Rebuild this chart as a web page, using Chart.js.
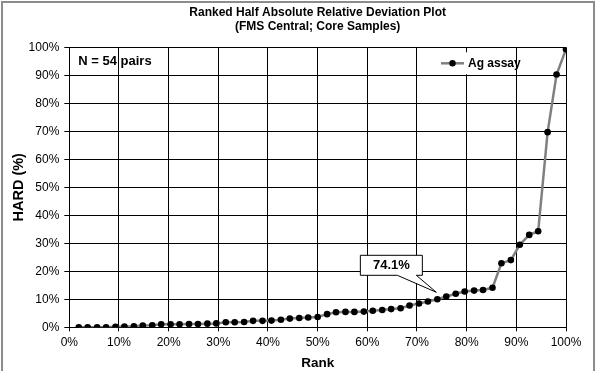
<!DOCTYPE html>
<html>
<head>
<meta charset="utf-8">
<script src="https://cdn.jsdelivr.net/npm/chart.js@4.4.1/dist/chart.umd.min.js"></script>
<style>
  body { margin: 0; background: #fff; }
  #wrap { width: 597px; height: 371px; }
</style>
</head>
<body>
<div id="wrap"><canvas id="hard" width="597" height="371"></canvas></div>
<script>
// ranked HARD values, Ag assay, 54 pairs
var rankPct = [1.9, 3.7, 5.6, 7.4, 9.3, 11.1, 13.0, 14.8, 16.7, 18.5,
    20.4, 22.2, 24.1, 25.9, 27.8, 29.6, 31.5, 33.3, 35.2, 37.0,
    38.9, 40.7, 42.6, 44.4, 46.3, 48.1, 50.0, 51.9, 53.7, 55.6,
    57.4, 59.3, 61.1, 63.0, 64.8, 66.7, 68.5, 70.4, 72.2, 74.1,
    75.9, 77.8, 79.6, 81.5, 83.3, 85.2, 87.0, 88.9, 90.7, 92.6,
    94.4, 96.3, 98.1, 100.0];
var hardPct = [0.0, 0.0, 0.0, 0.0, 0.2, 0.3, 0.4, 0.6, 0.7, 1.1,
    1.1, 1.1, 1.2, 1.2, 1.3, 1.4, 1.8, 1.8, 1.9, 2.3,
    2.3, 2.4, 2.7, 3.1, 3.3, 3.5, 3.7, 4.7, 5.4, 5.5,
    5.5, 5.6, 5.9, 6.2, 6.5, 6.8, 7.8, 8.5, 9.2, 10.0,
    11.0, 12.0, 12.8, 13.1, 13.3, 14.1, 22.9, 24.0, 29.5, 33.0,
    34.3, 69.7, 90.3, 99.3];
var seriesName = 'Ag assay';
var titleLines = ['Ranked Half Absolute Relative Deviation Plot', '(FMS Central; Core Samples)'];
var countLabel = 'N = 54 pairs';
var calloutIndex = 39;
var calloutLabel = '74.1%';

var FONT = "Arial, 'Liberation Sans', sans-serif";

var points = [];
for (var i = 0; i < rankPct.length; i++) {
    points.push({ x: rankPct[i], y: hardPct[i] });
}

// extra bits drawn on top: frame, N label, legend, callout
var extras = {
    id: 'extras',
    afterDraw: function (chart) {
        var c = chart.ctx;
        var area = chart.chartArea;
        c.save();

        // outer frame
        c.strokeStyle = '#8c8c8c';
        c.lineWidth = 2;
        c.beginPath();
        c.moveTo(2, 372); c.lineTo(2, 2); c.lineTo(594, 2); c.lineTo(594, 372);
        c.stroke();

        // N label
        c.fillStyle = '#000';
        c.font = 'bold 13px ' + FONT;
        c.textBaseline = 'middle';
        c.textAlign = 'left';
        c.fillText(countLabel, area.left + 9, area.top + 14.5);

        // legend
        var lx = 438, ly = area.top + 16;
        c.fillStyle = '#fff';
        c.fillRect(lx, ly - 11, 77, 22);
        c.strokeStyle = '#808080';
        c.lineWidth = 2.5;
        c.beginPath();
        c.moveTo(lx + 3, ly); c.lineTo(lx + 26, ly);
        c.stroke();
        c.fillStyle = '#000';
        c.beginPath();
        c.arc(lx + 14.5, ly, 3.2, 0, Math.PI * 2);
        c.fill();
        c.font = 'bold 12px ' + FONT;
        c.fillText(seriesName, lx + 30, ly);

        // callout pointing at the 10% crossing
        var xs = chart.scales.x, ys = chart.scales.y;
        var px = xs.getPixelForValue(rankPct[calloutIndex]);
        var py = ys.getPixelForValue(hardPct[calloutIndex]);
        var bl = px - 77, br = px - 15, bt = py - 44, bb = py - 24;
        c.fillStyle = '#fff';
        c.strokeStyle = '#000';
        c.lineWidth = 1;
        c.beginPath();
        c.moveTo(bl, bt); c.lineTo(br, bt); c.lineTo(br, bb);
        c.lineTo(px - 21, bb); c.lineTo(px - 1, py - 7); c.lineTo(px - 40, bb);
        c.lineTo(bl, bb); c.closePath();
        c.fill();
        c.stroke();
        c.fillStyle = '#000';
        c.font = 'bold 13px ' + FONT;
        c.textAlign = 'center';
        c.fillText(calloutLabel, (bl + br) / 2, (bt + bb) / 2 + 0.5);

        c.restore();
    }
};

var hardChart = new Chart(document.getElementById('hard'), {
    type: 'line',
    data: {
        datasets: [{
            label: seriesName,
            data: points,
            borderColor: '#808080',
            borderWidth: 2.5,
            pointRadius: 3.3,
            pointBackgroundColor: '#000',
            pointBorderColor: '#000',
            pointBorderWidth: 0,
            tension: 0
        }]
    },
    options: {
        responsive: false,
        animation: false,
        layout: { padding: { left: 0, right: 31, top: 0, bottom: 0 } },
        plugins: {
            legend: { display: false },
            tooltip: { enabled: false },
            title: {
                display: true,
                fullSize: false,
                text: titleLines,
                color: '#000',
                font: { family: FONT, size: 12, weight: 'bold', lineHeight: 1.2 },
                padding: { top: 5, bottom: 13.5 }
            }
        },
        scales: {
            x: {
                type: 'linear',
                min: 0,
                max: 100,
                ticks: {
                    stepSize: 10,
                    autoSkip: false,
                    maxRotation: 0,
                    padding: 4,
                    color: '#000',
                    font: { family: FONT, size: 12 },
                    callback: function (v) { return v + '%'; }
                },
                grid: { color: '#000', lineWidth: 1, tickLength: 4 },
                border: { color: '#000', width: 1 },
                title: {
                    display: true,
                    text: 'Rank',
                    color: '#000',
                    font: { family: FONT, size: 13.5, weight: 'bold' },
                    padding: { top: 4, bottom: 0 }
                },
                afterFit: function (s) { s.height = 43.7; }
            },
            y: {
                min: 0,
                max: 100,
                ticks: {
                    stepSize: 10,
                    padding: 5,
                    color: '#000',
                    font: { family: FONT, size: 12 },
                    callback: function (v) { return v + '%'; }
                },
                grid: { color: '#000', lineWidth: 1, tickLength: 5 },
                border: { color: '#000', width: 1 },
                title: {
                    display: true,
                    text: 'HARD (%)',
                    color: '#000',
                    font: { family: FONT, size: 14.5, weight: 'bold' },
                    padding: { top: 10, bottom: 0 }
                },
                afterFit: function (s) { s.width = 69.3; }
            }
        }
    },
    plugins: [extras]
});
</script>
</body>
</html>
